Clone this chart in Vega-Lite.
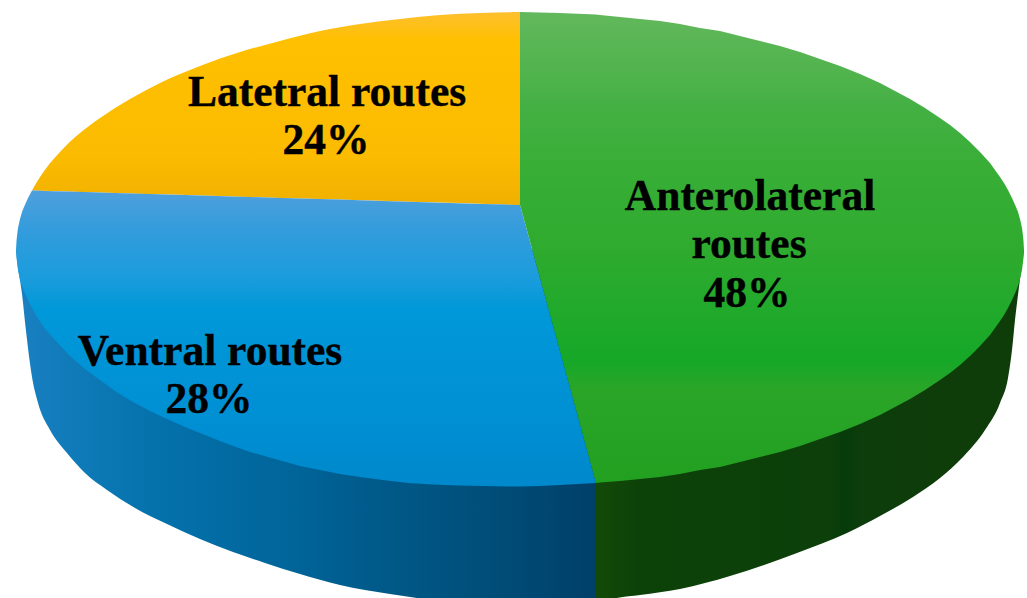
{"$schema":"https://vega.github.io/schema/vega-lite/v6.json","width":1027,"height":598,"padding":0,"background":"#ffffff","view":{"stroke":null},
"encoding":{"x":{"field":"x","type":"quantitative","axis":null,"scale":{"domain":[0,1027],"nice":false,"zero":false}},"y":{"field":"y0","type":"quantitative","axis":null,"stack":null,"scale":{"domain":[0,598],"nice":false,"zero":false,"reverse":true}},"y2":{"field":"y1"}},
"layer":[
{"data":{"values":[{"x":16,"y0":250,"y1":250},{"x":18,"y0":250,"y1":268},{"x":20,"y0":250,"y1":280},{"x":22,"y0":250,"y1":294},{"x":25,"y0":250,"y1":322},{"x":28,"y0":250,"y1":348},{"x":32,"y0":250,"y1":377},{"x":38,"y0":250,"y1":403},{"x":50,"y0":250,"y1":430},{"x":67,"y0":250,"y1":453},{"x":85,"y0":250,"y1":473},{"x":107,"y0":250,"y1":490},{"x":135,"y0":250,"y1":508},{"x":167,"y0":250,"y1":524},{"x":200,"y0":250,"y1":539},{"x":233,"y0":250,"y1":552},{"x":265,"y0":250,"y1":563},{"x":300,"y0":250,"y1":574},{"x":340,"y0":250,"y1":585},{"x":390,"y0":250,"y1":594},{"x":417,"y0":250,"y1":598},{"x":460,"y0":250,"y1":603},{"x":510,"y0":250,"y1":606},{"x":597,"y0":250,"y1":603}]},
"mark":{"type":"area","orient":"vertical","clip":true,"interpolate":"monotone","color":{"gradient":"linear","x1":0,"y1":0,"x2":1,"y2":0,"stops":[{"offset":0,"color":"#1a80c2"},{"offset":0.145,"color":"#0b78b4"},{"offset":0.265,"color":"#0470aa"},{"offset":0.49,"color":"#006498"},{"offset":0.56,"color":"#005e90"},{"offset":0.75,"color":"#00527e"},{"offset":0.92,"color":"#004670"},{"offset":1,"color":"#003f68"}]}}},
{"data":{"values":[{"x":596,"y0":250,"y1":603},{"x":617,"y0":250,"y1":598},{"x":640,"y0":250,"y1":595},{"x":680,"y0":250,"y1":589},{"x":730,"y0":250,"y1":576},{"x":797,"y0":250,"y1":553},{"x":847,"y0":250,"y1":533},{"x":880,"y0":250,"y1":516},{"x":913,"y0":250,"y1":497},{"x":940,"y0":250,"y1":478},{"x":963,"y0":250,"y1":457},{"x":985,"y0":250,"y1":430},{"x":1000,"y0":250,"y1":403},{"x":1008,"y0":250,"y1":378},{"x":1012,"y0":250,"y1":350},{"x":1015,"y0":250,"y1":320},{"x":1018,"y0":250,"y1":295},{"x":1020,"y0":250,"y1":279},{"x":1022,"y0":250,"y1":265},{"x":1024,"y0":250,"y1":250}]},
"mark":{"type":"area","orient":"vertical","clip":true,"interpolate":"monotone","color":{"gradient":"linear","x1":0,"y1":0,"x2":1,"y2":0,"stops":[{"offset":0,"color":"#134a08"},{"offset":0.1,"color":"#0c4208"},{"offset":0.55,"color":"#0c3f0a"},{"offset":0.58,"color":"#063c0a"},{"offset":0.62,"color":"#0d3d0a"},{"offset":1,"color":"#0f3d0a"}]}}},
{"data":{"values":[{"x":32,"y0":190.5,"y1":190.5},{"x":40,"y0":177,"y1":190.7},{"x":60,"y0":152,"y1":191.3},{"x":80,"y0":133,"y1":192},{"x":100,"y0":118,"y1":192.5},{"x":130,"y0":99,"y1":193.4},{"x":160,"y0":83,"y1":194.3},{"x":200,"y0":66,"y1":195.5},{"x":240,"y0":52,"y1":196.7},{"x":280,"y0":41,"y1":197.9},{"x":320,"y0":31,"y1":199},{"x":360,"y0":24,"y1":200.2},{"x":400,"y0":19,"y1":201.4},{"x":440,"y0":15,"y1":202.6},{"x":480,"y0":13,"y1":203.8},{"x":520,"y0":12,"y1":205}]},
"mark":{"type":"area","orient":"vertical","interpolate":"monotone","color":{"gradient":"linear","x1":0,"y1":0,"x2":0,"y2":1,"stops":[{"offset":0,"color":"#fdc02e"},{"offset":0.15,"color":"#ffc000"},{"offset":0.75,"color":"#fbbb00"},{"offset":1,"color":"#f0b000"}]}}},
{"data":{"values":[{"x":16,"y0":250,"y1":250},{"x":16.5,"y0":241,"y1":258},{"x":17,"y0":236,"y1":262},{"x":18,"y0":228,"y1":270},{"x":20,"y0":219,"y1":280},{"x":22,"y0":212,"y1":286},{"x":24,"y0":207,"y1":291},{"x":28,"y0":198,"y1":300},{"x":32,"y0":190.5,"y1":308},{"x":37,"y0":190.6,"y1":317},{"x":45,"y0":190.9,"y1":329},{"x":55,"y0":191.2,"y1":340},{"x":70,"y0":191.6,"y1":356},{"x":85,"y0":192,"y1":369},{"x":100,"y0":192.5,"y1":380},{"x":115,"y0":193,"y1":391},{"x":133,"y0":193.5,"y1":402},{"x":150,"y0":194,"y1":411},{"x":167,"y0":194.5,"y1":419},{"x":185,"y0":195,"y1":427},{"x":200,"y0":195.5,"y1":433},{"x":225,"y0":196.2,"y1":443},{"x":250,"y0":197,"y1":452},{"x":275,"y0":197.7,"y1":459},{"x":300,"y0":198.5,"y1":466},{"x":320,"y0":199,"y1":470},{"x":340,"y0":199.5,"y1":474},{"x":360,"y0":200.2,"y1":477},{"x":383,"y0":201,"y1":480},{"x":408,"y0":201.7,"y1":483},{"x":433,"y0":202.5,"y1":484.5},{"x":458,"y0":203.2,"y1":485.5},{"x":483,"y0":204,"y1":486},{"x":507,"y0":204.6,"y1":486.5},{"x":520,"y0":205,"y1":486.5},{"x":540,"y0":278,"y1":486},{"x":560,"y0":351,"y1":485},{"x":596,"y0":483,"y1":483}]},
"mark":{"type":"area","orient":"vertical","color":{"gradient":"linear","x1":0,"y1":0,"x2":0,"y2":1,"stops":[{"offset":0,"color":"#4f9fdc"},{"offset":0.15,"color":"#309cdc"},{"offset":0.3,"color":"#1a9cdc"},{"offset":0.4,"color":"#0098d8"},{"offset":0.75,"color":"#0090d4"},{"offset":1,"color":"#0088cc"}]}}},
{"data":{"values":[{"x":520,"y0":12,"y1":205},{"x":540,"y0":12.5,"y1":278},{"x":560,"y0":13,"y1":351},{"x":596,"y0":14.5,"y1":483},{"x":600,"y0":15,"y1":482.5},{"x":620,"y0":17,"y1":481},{"x":640,"y0":19,"y1":479},{"x":660,"y0":21,"y1":477},{"x":680,"y0":24,"y1":474},{"x":700,"y0":28,"y1":470},{"x":720,"y0":31,"y1":467},{"x":740,"y0":36,"y1":462},{"x":760,"y0":41,"y1":457},{"x":780,"y0":46,"y1":452},{"x":800,"y0":52,"y1":446},{"x":820,"y0":59,"y1":439},{"x":840,"y0":66,"y1":432},{"x":860,"y0":74,"y1":424},{"x":880,"y0":83,"y1":415},{"x":895,"y0":91,"y1":407},{"x":910,"y0":99,"y1":399},{"x":925,"y0":108,"y1":390},{"x":940,"y0":118,"y1":380},{"x":950,"y0":125,"y1":373},{"x":960,"y0":133,"y1":365},{"x":970,"y0":142,"y1":356},{"x":980,"y0":152,"y1":346},{"x":990,"y0":163,"y1":335},{"x":1000,"y0":177,"y1":321},{"x":1004,"y0":183,"y1":315},{"x":1008,"y0":190,"y1":308},{"x":1012,"y0":198,"y1":300},{"x":1016,"y0":207,"y1":291},{"x":1018,"y0":212,"y1":286},{"x":1020,"y0":219,"y1":279},{"x":1022,"y0":228,"y1":270},{"x":1023,"y0":236,"y1":262},{"x":1023.5,"y0":241,"y1":258},{"x":1024,"y0":250,"y1":250}]},
"mark":{"type":"area","orient":"vertical","color":{"gradient":"linear","x1":0,"y1":0,"x2":0,"y2":1,"stops":[{"offset":0,"color":"#62b85c"},{"offset":0.12,"color":"#52b44e"},{"offset":0.2,"color":"#44b044"},{"offset":0.33,"color":"#38ae36"},{"offset":0.5,"color":"#2fab2f"},{"offset":0.74,"color":"#16a828"},{"offset":0.8,"color":"#2aa528"},{"offset":1,"color":"#22a020"}]}}},
{"data":{"values":[{"label":"Latetral routes","x":327,"y0":106},{"label":"24%","x":326,"y0":154},{"label":"Anterolateral","x":750,"y0":210},{"label":"routes","x":749,"y0":258},{"label":"48%","x":747,"y0":307},{"label":"Ventral routes","x":210,"y0":365},{"label":"28%","x":209,"y0":413}]},
"mark":{"type":"text","font":"Liberation Serif","fontWeight":"bold","fontSize":43.5,"color":"#000000","stroke":"#000000","strokeWidth":0.4,"align":"center","baseline":"alphabetic"},
"encoding":{"text":{"field":"label","type":"nominal"},"y2":null}}
]}
